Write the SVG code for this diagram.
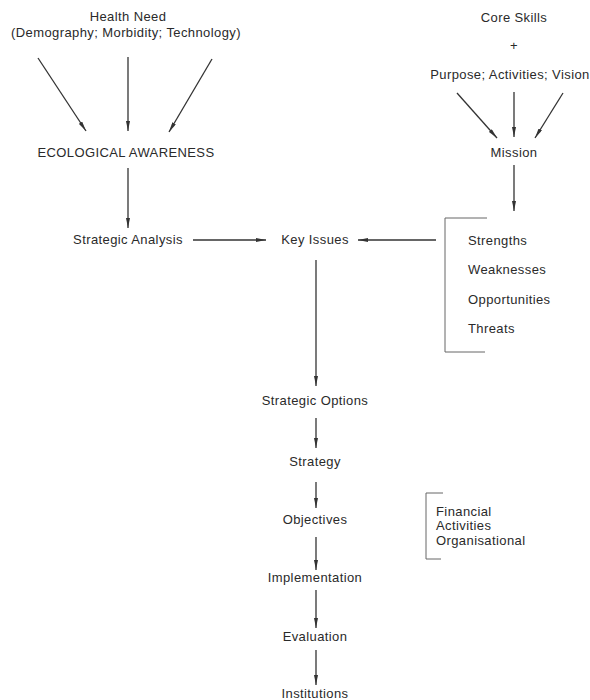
<svg xmlns="http://www.w3.org/2000/svg" width="590" height="700" viewBox="0 0 590 700">
  <defs>
    <marker id="arrow" viewBox="0 0 10 4" refX="10" refY="2" markerWidth="10" markerHeight="4" markerUnits="userSpaceOnUse" orient="auto">
      <path d="M0,0 L10,2 L0,4 Z" fill="#333"/>
    </marker>
    <style>
      text { font-family: "Liberation Sans", Arial, sans-serif; font-size: 13px; letter-spacing: 0.4px; fill: #2a2a2a; }
      .c { text-anchor: middle; }
      .edge { stroke: #333; stroke-width: 1.3; fill: none; marker-end: url(#arrow); }
      .bracket { stroke: #666; stroke-width: 1; fill: none; }
    </style>
  </defs>
  <rect width="590" height="700" fill="#fff"/>

  <g id="health-need">
    <text class="c" x="128" y="21">Health Need</text>
    <text class="c" x="126" y="37">(Demography; Morbidity; Technology)</text>
  </g>
  <g id="ecological-awareness">
    <text class="c" x="126" y="157">ECOLOGICAL AWARENESS</text>
  </g>
  <g id="strategic-analysis">
    <text class="c" x="128" y="244">Strategic Analysis</text>
  </g>
  <g id="key-issues">
    <text class="c" x="315" y="244">Key Issues</text>
  </g>
  <g id="core-skills">
    <text class="c" x="514" y="22">Core Skills</text>
    <text class="c" x="514" y="50">+</text>
    <text class="c" x="510" y="79">Purpose; Activities; Vision</text>
  </g>
  <g id="mission">
    <text class="c" x="514" y="157">Mission</text>
  </g>
  <g id="swot">
    <path class="bracket" d="M487,218 H445 V352 H485"/>
    <text x="468" y="245">Strengths</text>
    <text x="468" y="274">Weaknesses</text>
    <text x="468" y="304">Opportunities</text>
    <text x="468" y="333">Threats</text>
  </g>
  <g id="strategic-options">
    <text class="c" x="315" y="405">Strategic Options</text>
  </g>
  <g id="strategy">
    <text class="c" x="315" y="466">Strategy</text>
  </g>
  <g id="objectives">
    <text class="c" x="315" y="524">Objectives</text>
  </g>
  <g id="objective-areas">
    <path class="bracket" d="M443,493 H426 V559 H441"/>
    <text x="436" y="516">Financial</text>
    <text x="436" y="530">Activities</text>
    <text x="436" y="545">Organisational</text>
  </g>
  <g id="implementation">
    <text class="c" x="315" y="582">Implementation</text>
  </g>
  <g id="evaluation">
    <text class="c" x="315" y="641">Evaluation</text>
  </g>
  <g id="institutions">
    <text class="c" x="315" y="698">Institutions</text>
  </g>

  <g id="connectors">
    <line class="edge" x1="38" y1="58" x2="86" y2="131"/>
    <line class="edge" x1="128" y1="57" x2="128" y2="131"/>
    <line class="edge" x1="212" y1="59" x2="169" y2="132"/>
    <line class="edge" x1="128" y1="168" x2="128" y2="228"/>
    <line class="edge" x1="193" y1="240" x2="266" y2="240"/>
    <line class="edge" x1="436" y1="240" x2="358" y2="240"/>
    <line class="edge" x1="457" y1="93" x2="497" y2="138"/>
    <line class="edge" x1="514" y1="92" x2="514" y2="137"/>
    <line class="edge" x1="563" y1="93" x2="535" y2="138"/>
    <line class="edge" x1="514" y1="165" x2="514" y2="211"/>
    <line class="edge" x1="316" y1="260" x2="316" y2="386"/>
    <line class="edge" x1="316" y1="418" x2="316" y2="448"/>
    <line class="edge" x1="316" y1="482" x2="316" y2="508"/>
    <line class="edge" x1="316" y1="537" x2="316" y2="570"/>
    <line class="edge" x1="316" y1="590" x2="316" y2="628"/>
    <line class="edge" x1="316" y1="650" x2="316" y2="685"/>
  </g>
</svg>
